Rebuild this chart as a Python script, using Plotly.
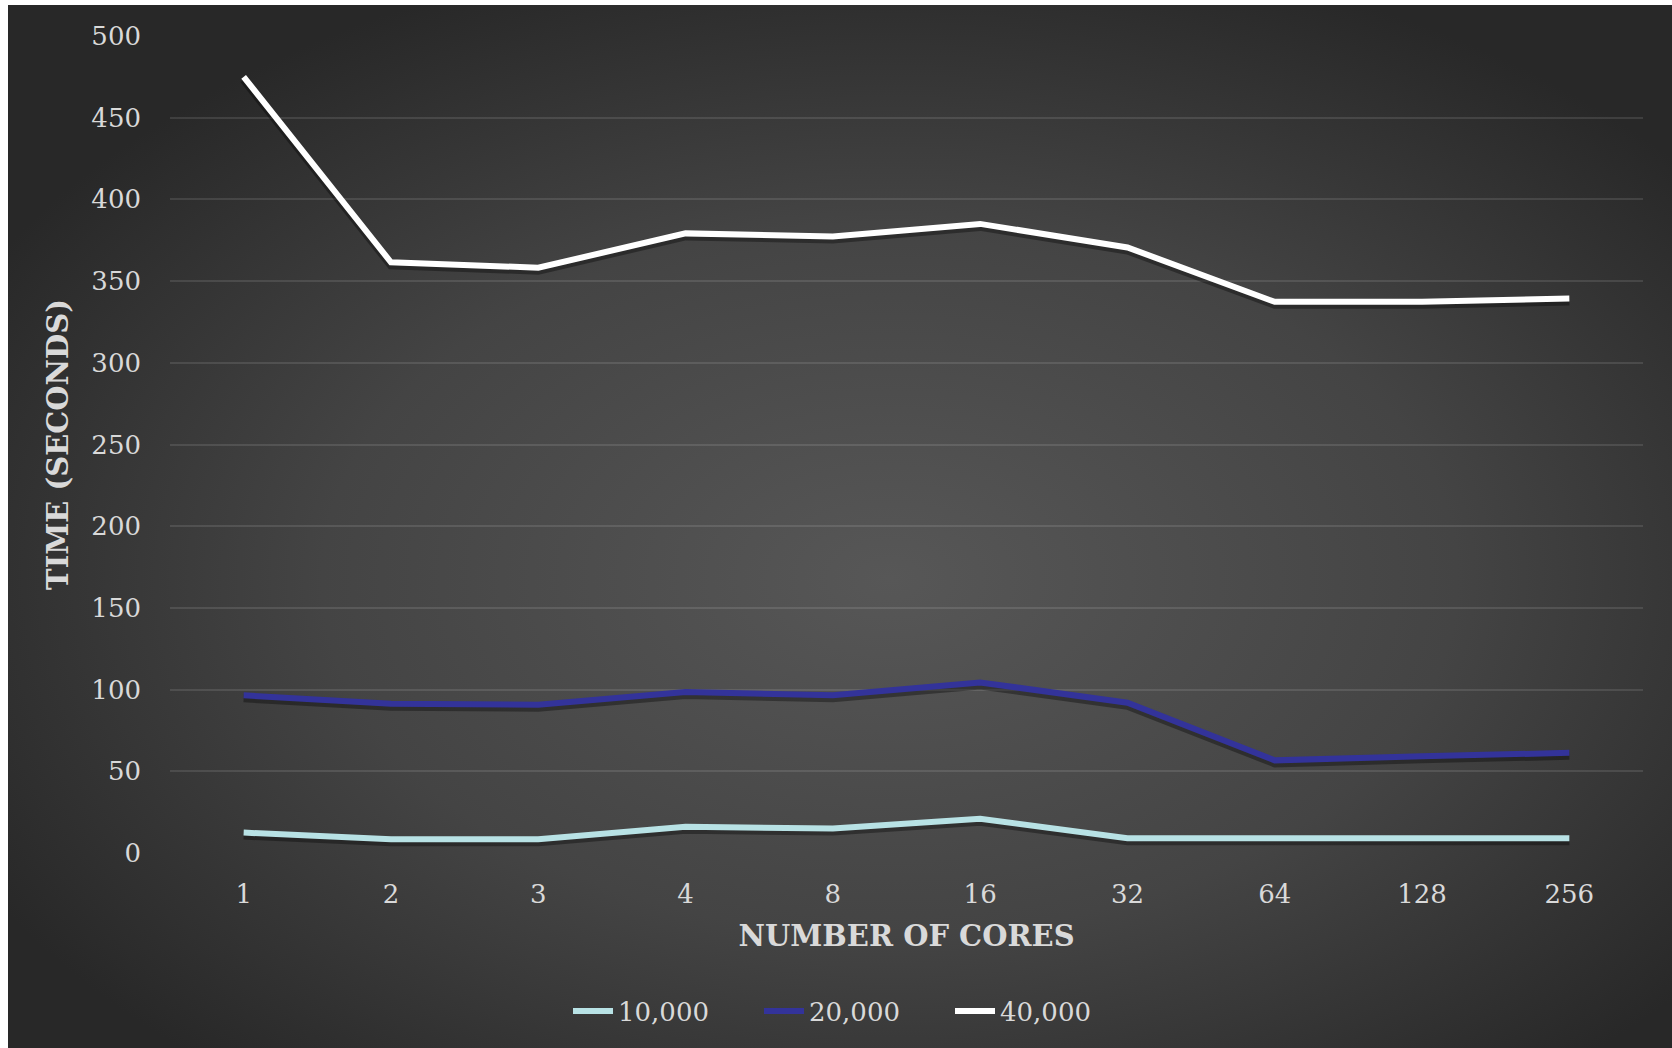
import base64
import plotly.graph_objects as go

# Run time vs. core count for three problem sizes
cores = ["1", "2", "3", "4", "8", "16", "32", "64", "128", "256"]
size_labels = ["10,000", "20,000", "40,000"]
time_10k = [12.5, 8.4, 8.4, 16, 15, 21, 9, 9, 9, 9]
time_20k = [96.5, 91.3, 90.7, 98.5, 96.6, 104.4, 92, 56.7, 59.2, 61.3]
time_40k = [475, 361.5, 358.2, 379.2, 377.3, 385, 370.6, 337.3, 337.3, 339.3]
series_colors = ["#b8e2e5", "#33339a", "#ffffff"]

y_ticks = [0, 50, 100, 150, 200, 250, 300, 350, 400, 450, 500]
y_pad = 0.6
y_range = [-y_pad, 500 + y_pad]

W, H = 1672, 1048
M_L, M_R, M_T, M_B = 170, 29, 35, 194
plot_w = W - M_L - M_R
plot_h = H - M_T - M_B
units_per_px = (y_range[1] - y_range[0]) / plot_h

# dark radial-gradient backdrop for the chart card
svg = """<svg xmlns='http://www.w3.org/2000/svg' width='1664' height='1043' viewBox='0 0 1664 1043' preserveAspectRatio='none'>
<defs><radialGradient id='g' cx='53%' cy='55%' r='62%' fx='53%' fy='55%'>
<stop offset='0' stop-color='#575757'/>
<stop offset='0.55' stop-color='#444444'/>
<stop offset='1' stop-color='#282828'/>
</radialGradient></defs>
<rect width='1664' height='1043' fill='url(#g)'/>
</svg>"""
bg_uri = "data:image/svg+xml;base64," + base64.b64encode(svg.encode()).decode()

card_x0, card_y0 = 8, 5
img_x = (card_x0 - M_L) / plot_w
img_y = (H - M_B - card_y0) / plot_h
img_sx = (W - card_x0) / plot_w
img_sy = (H - card_y0) / plot_h

fig = go.Figure()

series = [time_10k, time_20k, time_40k]

# soft drop shadows on the (hidden) base axis, shifted a few pixels down
shadow_units = 3 * units_per_px
for vals in series:
    fig.add_trace(go.Scatter(
        x=cores, y=vals, mode="lines", yaxis="y", showlegend=False,
        hoverinfo="skip",
        line=dict(color="rgba(0,0,0,0.35)", width=8),
    ))

for name, vals, col in zip(size_labels, series, series_colors):
    fig.add_trace(go.Scatter(
        x=cores, y=vals, mode="lines", name=name, yaxis="y2",
        line=dict(color=col, width=6),
    ))

font_family = "DejaVu Serif"
text_color = "#d9d9d9"

fig.update_layout(
    width=W, height=H,
    margin=dict(l=M_L, r=M_R, t=M_T, b=M_B),
    paper_bgcolor="#ffffff",
    plot_bgcolor="rgba(0,0,0,0)",
    font=dict(family=font_family, color=text_color, size=26),
    images=[dict(
        source=bg_uri, xref="paper", yref="paper",
        x=img_x, y=img_y, sizex=img_sx, sizey=img_sy,
        xanchor="left", yanchor="top", sizing="stretch", layer="below",
    )],
    xaxis=dict(
        type="category", categoryorder="array", categoryarray=cores,
        range=[-0.5, len(cores) - 0.5],
        showgrid=False, zeroline=False, showline=False, ticks="",
        ticklabelstandoff=22,
        tickfont=dict(size=26, color=text_color, family=font_family),
        title=dict(text="<b>NUMBER OF CORES</b>", standoff=17,
                   font=dict(size=29, color=text_color, family=font_family)),
    ),
    yaxis=dict(range=[y_range[0] + shadow_units, y_range[1] + shadow_units],
               visible=False),
    yaxis2=dict(
        overlaying="y", side="left",
        range=y_range, tickvals=y_ticks,
        showgrid=True, gridcolor="rgba(255,255,255,0.11)", gridwidth=1.5,
        zeroline=False, showline=False, ticks="",
        ticklabelstandoff=28,
        tickfont=dict(size=26, color=text_color, family=font_family),
        title=dict(text="<b>TIME (SECONDS)</b>", standoff=14,
                   font=dict(size=29, color=text_color, family=font_family)),
    ),
    showlegend=True,
    legend=dict(
        orientation="h", x=(568 - M_L) / plot_w, xanchor="left",
        y=(H - M_B - 1011) / plot_h, yanchor="middle",
        font=dict(size=26, color=text_color, family=font_family),
        bgcolor="rgba(0,0,0,0)", itemwidth=40,
        entrywidth=136, entrywidthmode="pixels",
    ),
)

fig.write_html("out.html")
